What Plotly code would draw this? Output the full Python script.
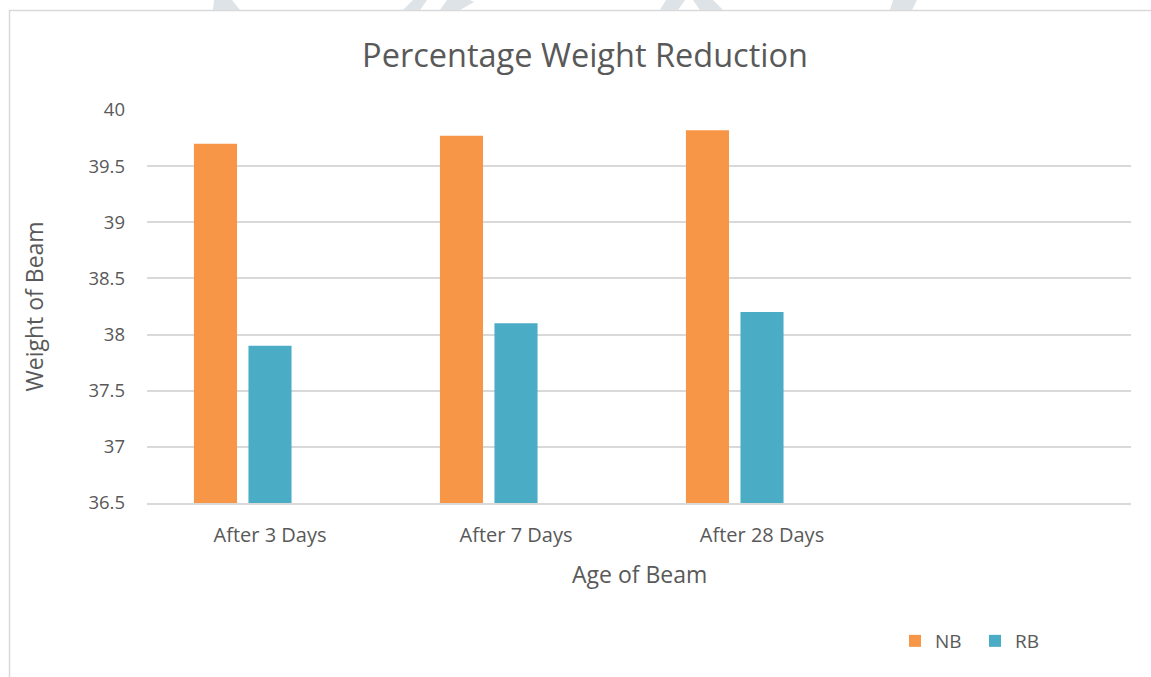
import plotly.graph_objects as go

# Chart data
categories = ["After 3 Days", "After 7 Days", "After 28 Days"]
nb_values = [39.70, 39.77, 39.82]
rb_values = [37.90, 38.10, 38.20]
spare_values = [None, None, None]  # third series slot, left empty
y_ticks = [36.5, 37, 37.5, 38, 38.5, 39, 39.5, 40]

W, H = 1151, 677
L, R, T, B = 147, 20, 110, 174
PW, PH = W - L - R, H - T - B

TEXT = "#595959"
GRID = "#D9D9D9"
FONT = "Open Sans"


def px(x):
    return (x - L) / PW


def py(y):
    return (H - B - y) / PH


fig = go.Figure()
fig.add_trace(go.Bar(name="NB", x=categories, y=nb_values,
                     marker=dict(color="#F79646", line=dict(width=0))))
fig.add_trace(go.Bar(name="RB", x=categories, y=rb_values,
                     marker=dict(color="#4BACC6", line=dict(width=0))))
fig.add_trace(go.Bar(name="Series3", x=categories, y=spare_values,
                     showlegend=False, marker=dict(color="#8064A2")))

shapes = []
# outer chart frame
shapes.append(dict(type="rect", xref="paper", yref="paper",
                   x0=px(9.5), x1=px(1165), y0=py(10.5), y1=py(690),
                   line=dict(color="#D9D9D9", width=1.5), fillcolor="rgba(0,0,0,0)",
                   layer="below"))
# faint emblem fragments peeking over the top edge
emblem = [
    [(213, 10), (240, 10), (232, 0), (214, 0)],
    [(403, 10), (420, 10), (427, 0), (413, 0)],
    [(440, 10), (460, 10), (474, 2), (470, 0), (447, 0)],
    [(660, 10), (678, 10), (685, 0), (666, 0)],
    [(700, 10), (723, 10), (713, 0), (693, 0)],
    [(890, 10), (912, 10), (917, 0), (893, 0)],
]
for poly in emblem:
    path = "M " + " L ".join(f"{px(x):.5f},{py(y):.5f}" for x, y in poly) + " Z"
    shapes.append(dict(type="path", xref="paper", yref="paper", path=path,
                       fillcolor="#DDE3E6", line=dict(width=0), layer="below"))

annotations = [
    dict(text="Age of Beam", xref="paper", yref="paper", x=0.5, y=py(574),
         xanchor="center", yanchor="middle", showarrow=False,
         font=dict(family=FONT, size=23, color=TEXT)),
    dict(text="Weight of Beam", xref="paper", yref="paper", x=px(33), y=0.5,
         xanchor="center", yanchor="middle", showarrow=False, textangle=-90,
         font=dict(family=FONT, size=23, color=TEXT)),
]

fig.update_layout(
    width=W, height=H,
    margin=dict(l=L, r=R, t=T, b=B),
    paper_bgcolor="white", plot_bgcolor="white",
    barmode="group", bargap=0.335, bargroupgap=0.21,
    title=dict(text="Percentage Weight Reduction", x=585 / W,
               xanchor="center", y=1 - 56 / H, yanchor="middle", yref="container",
               font=dict(family=FONT, size=32.5, color=TEXT)),
    font=dict(family=FONT, color=TEXT),
    xaxis=dict(type="category", range=[-0.5, 3.5], showgrid=False,
               showline=True, linecolor=GRID, linewidth=1.5,
               ticks="", ticklabelstandoff=13,
               tickfont=dict(family=FONT, size=20, color=TEXT)),
    yaxis=dict(range=[36.5, 40], tickvals=y_ticks,
               ticktext=[f"{v:g}" for v in y_ticks],
               showgrid=True, gridcolor=GRID, gridwidth=1.5,
               zeroline=False, showline=False, ticks="", ticklabelstandoff=21,
               tickfont=dict(family=FONT, size=18.5, color=TEXT)),
    legend=dict(orientation="h", x=px(895), y=py(641), xanchor="left", yanchor="middle",
                font=dict(family=FONT, size=19, color=TEXT), itemwidth=30,
                entrywidth=35, entrywidthmode="pixels",
                traceorder="normal", bgcolor="rgba(0,0,0,0)"),
    shapes=shapes,
    annotations=annotations,
)

fig.write_html("out.html")
